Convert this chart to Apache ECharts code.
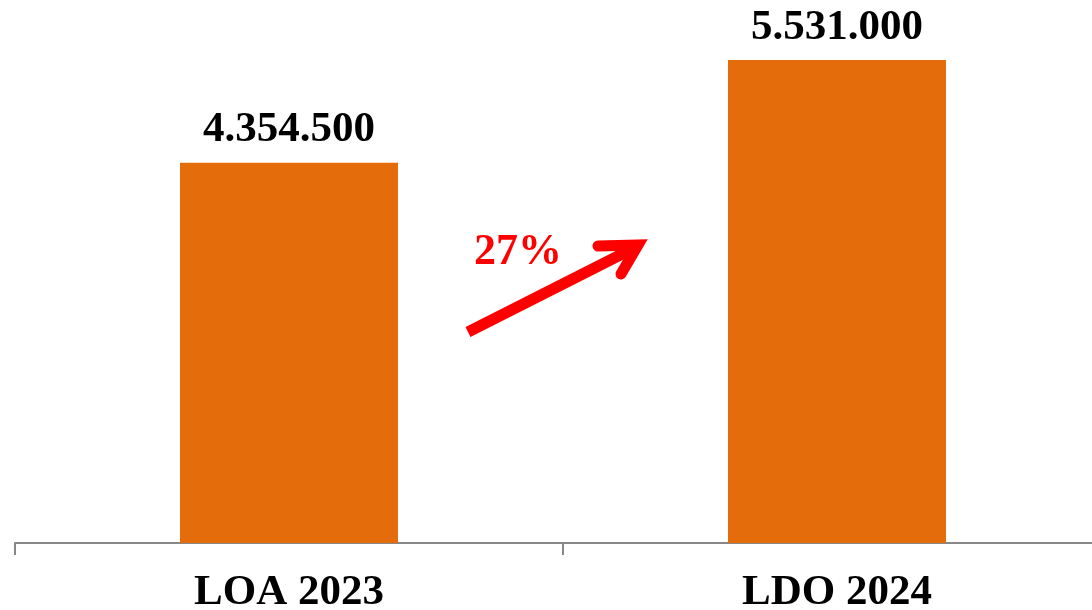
<!DOCTYPE html>
<html>
<head>
<meta charset="utf-8">
<script src="https://cdn.jsdelivr.net/npm/echarts@6/dist/echarts.min.js"></script>
<style>
  html, body { margin: 0; padding: 0; background: #fff; }
  #chart { width: 1092px; height: 610px; }
</style>
</head>
<body>
<div id="chart"></div>
<script>
// data
const categories = ['LOA 2023', 'LDO 2024'];
const values = [4354500, 5531000];
const growthLabel = '27%';

const fmt = v => String(v).replace(/\B(?=(\d{3})+(?!\d))/g, '.');

const chart = echarts.init(document.getElementById('chart'));
chart.setOption({
  animation: false,
  grid: { left: 15, right: -19, top: 60, bottom: 67, containLabel: false, outerBoundsMode: 'none' },
  xAxis: {
    type: 'category',
    data: categories,
    axisLine: { lineStyle: { color: '#888', width: 2 } },
    axisTick: { show: true, length: 12, lineStyle: { color: '#888', width: 2 } },
    axisLabel: {
      interval: 0,
      margin: 28,
      color: '#000',
      fontFamily: 'Liberation Serif',
      fontWeight: 'bold',
      fontSize: 43
    }
  },
  yAxis: {
    type: 'value',
    min: 0,
    max: 5531000,
    show: false,
    splitLine: { show: false }
  },
  series: [{
    type: 'bar',
    data: values,
    barWidth: 218,
    itemStyle: { color: '#E46C0A' },
    label: {
      show: true,
      position: 'top',
      distance: 11,
      color: '#000',
      fontFamily: 'Liberation Serif',
      fontWeight: 'bold',
      fontSize: 43,
      formatter: p => fmt(p.value)
    }
  }],
  graphic: [
    {
      type: 'line',
      shape: { x1: 468, y1: 332, x2: 634, y2: 248 },
      style: { stroke: '#ff0000', lineWidth: 11 }
    },
    {
      type: 'polyline',
      shape: { points: [[598, 246], [638, 245], [621, 274]] },
      style: { stroke: '#ff0000', lineWidth: 11, lineCap: 'round', lineJoin: 'miter', fill: null }
    },
    {
      type: 'text',
      left: 474,
      top: 231,
      style: {
        text: growthLabel,
        fill: '#ff0000',
        font: 'bold 44px "Liberation Serif"'
      }
    }
  ]
});
</script>
</body>
</html>
